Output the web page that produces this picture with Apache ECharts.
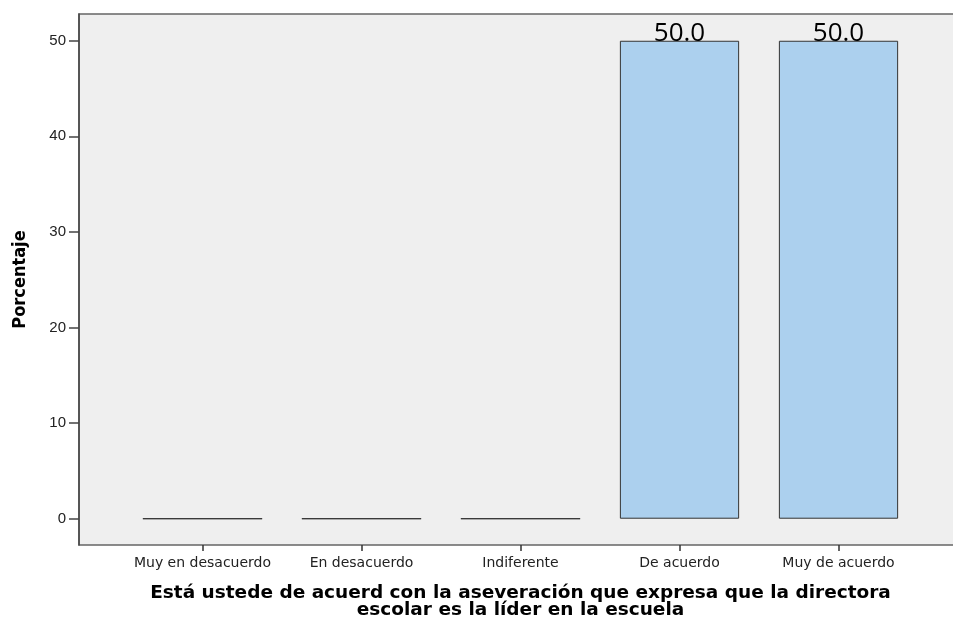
<!DOCTYPE html>
<html>
<head>
<meta charset="utf-8">
<script src="https://cdn.jsdelivr.net/npm/echarts@6/dist/echarts.min.js"></script>
<style>
  html, body { margin: 0; padding: 0; background: #fff; }
  #main { width: 953px; height: 620px; }
</style>
</head>
<body>
<div id="main"></div>
<script>
var categories = ['Muy en desacuerdo', 'En desacuerdo', 'Indiferente', 'De acuerdo', 'Muy de acuerdo'];
var porcentajes = [0, 0, 0, 50.0, 50.0];
var yTicks = [0, 10, 20, 30, 40, 50];

var yMin = -2.75, yMax = 52.8;

var myChart = echarts.init(document.getElementById('main'));

option = {
    backgroundColor: '#ffffff',
    animation: false,
    grid: [
        // frame with background + y axis
        { left: 79, right: -2, top: 14, bottom: 75, show: true, outerBoundsMode: 'none',
          backgroundColor: '#efefef', borderColor: '#666', borderWidth: 1.5 },
        // bars, with their own band padding
        { left: 123, right: 35, top: 14, bottom: 75, outerBoundsMode: 'none' }
    ],
    xAxis: [
        { gridIndex: 0, type: 'value', min: 0, max: 1, show: false },
        {
            gridIndex: 1,
            type: 'category',
            data: categories,
            axisLine: { show: false, onZero: false },
            axisTick: { show: true, alignWithLabel: true, length: 6,
                        lineStyle: { color: '#333', width: 1.5 } },
            axisLabel: { color: '#222', fontSize: 14, fontFamily: 'DejaVu Sans', margin: 11,
                         interval: 0, hideOverlap: false },
            name: 'Está ustede de acuerd con la aseveración que expresa que la directora\nescolar es la líder en la escuela',
            nameLocation: 'middle',
            nameGap: 40,
            nameTextStyle: { color: '#000', fontSize: 18.5, fontWeight: 'bold',
                             fontFamily: 'DejaVu Sans', lineHeight: 16.5 }
        }
    ],
    yAxis: [
        {
            gridIndex: 0,
            type: 'value',
            min: yMin,
            max: yMax,
            interval: 10,
            axisLine: { show: true, lineStyle: { color: '#444', width: 1.5 } },
            axisTick: { show: true, length: 10, lineStyle: { color: '#444', width: 1.5 },
                        customValues: yTicks },
            axisLabel: { color: '#222', fontSize: 15, fontFamily: 'Liberation Sans', margin: 13,
                         customValues: yTicks },
            splitLine: { show: false },
            name: 'Porcentaje',
            nameLocation: 'middle',
            nameGap: 50,
            nameTextStyle: { color: '#000', fontSize: 18, fontWeight: 'bold',
                             fontFamily: 'DejaVu Sans Condensed, Liberation Sans' }
        },
        { gridIndex: 1, type: 'value', min: yMin, max: yMax, show: false }
    ],
    series: [{
        type: 'bar',
        xAxisIndex: 1,
        yAxisIndex: 1,
        data: porcentajes,
        barWidth: '75%',
        itemStyle: { color: '#acd0ee', borderColor: '#333', borderWidth: 1 },
        label: {
            show: true,
            position: 'top',
            distance: -6,
            color: '#000',
            fontSize: 26,
            fontFamily: 'Open Sans',
            formatter: function (p) { return p.value > 0 ? p.value.toFixed(1) : ''; }
        }
    }]
};

myChart.setOption(option);
</script>
</body>
</html>
